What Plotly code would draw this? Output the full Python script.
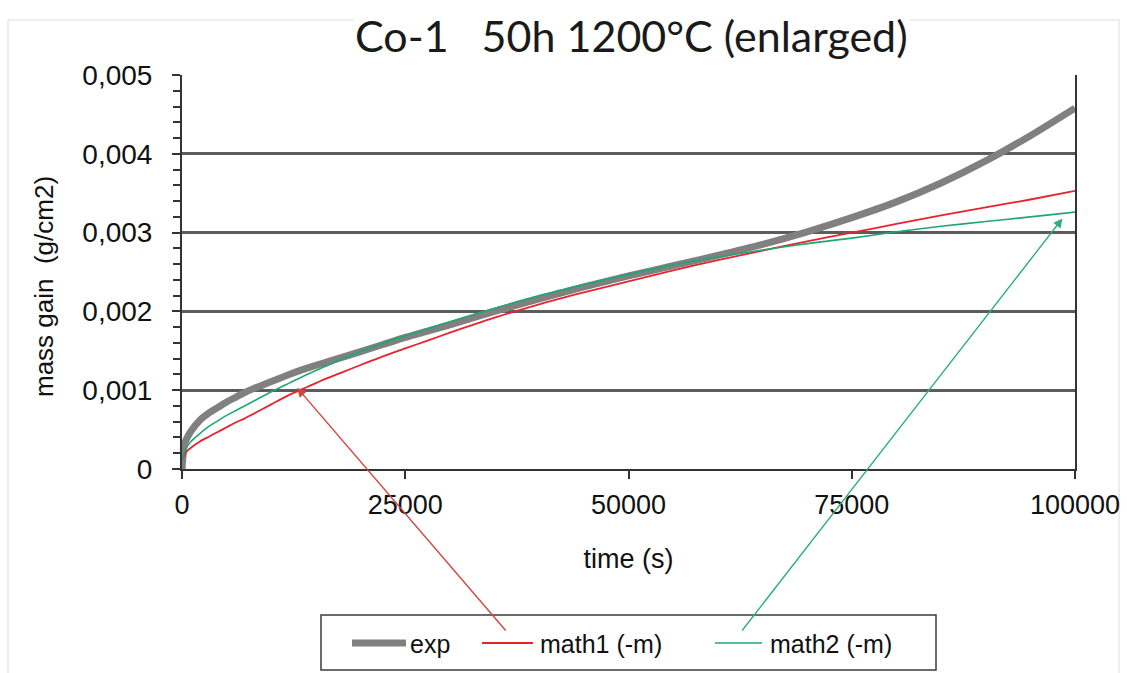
import plotly.graph_objects as go

# ---- data -------------------------------------------------------------
time_s = [0, 250, 500, 1000, 2000, 3000, 4000, 5000, 6000, 7000, 8000,
          10000, 12000, 14000, 16000, 18000, 20000, 22500, 25000, 27500,
          30000, 35000, 40000, 45000, 50000, 55000, 60000, 65000, 70000,
          75000, 80000, 85000, 90000, 95000, 100000]

exp_gain = [0, 0.00030, 0.00038, 0.00048, 0.00062, 0.00071, 0.00078, 0.00085,
            0.00091, 0.00097, 0.00102, 0.00111, 0.00120, 0.00128, 0.00135,
            0.00142, 0.00149, 0.00158, 0.00167, 0.00175, 0.00183, 0.00200,
            0.00216, 0.00231, 0.00245, 0.00258, 0.00271, 0.00285, 0.00301,
            0.00319, 0.00339, 0.00363, 0.00391, 0.00423, 0.00458]

math1_gain = [0.00012, 0.00017, 0.00022, 0.00027, 0.00035, 0.00041, 0.00047,
              0.00053, 0.00059, 0.00064, 0.00070, 0.00082, 0.00094, 0.00104,
              0.00114, 0.00123, 0.00132, 0.00143, 0.00153, 0.00163, 0.00173,
              0.00192, 0.00209, 0.00224, 0.00238, 0.00252, 0.00265, 0.00277,
              0.00289, 0.00300, 0.00311, 0.00322, 0.00332, 0.00342, 0.00353]

math2_gain = [0.00012, 0.00020, 0.00027, 0.00035, 0.00045, 0.00054, 0.00061,
              0.00068, 0.00074, 0.00080, 0.00086, 0.00098, 0.00109, 0.00120,
              0.00130, 0.00140, 0.00149, 0.00160, 0.00169, 0.00178, 0.00187,
              0.00204, 0.00220, 0.00234, 0.00247, 0.00259, 0.00269, 0.00278,
              0.00286, 0.00293, 0.00301, 0.00308, 0.00314, 0.00320, 0.00326]

series_names = ["exp", "math1 (-m)", "math2 (-m)"]
series_colors = ["#808080", "#e8232d", "#20a673"]
series_widths = [7, 1.8, 1.6]

x_tickvals = [0, 25000, 50000, 75000, 100000]
x_ticktext = ["0", "25000", "50000", "75000", "100000"]
y_tickvals = [0, 0.001, 0.002, 0.003, 0.004, 0.005]
y_ticktext = ["0", "0,001", "0,002", "0,003", "0,004", "0,005"]

# points on the model curves that the legend arrows point at
arrow_targets = {"math1 (-m)": (12900, 0.00103), "math2 (-m)": (98600, 0.00318)}

# ---- layout geometry (pixels) -----------------------------------------
W, H = 1127, 673
M_L, M_R, M_T, M_B = 182, 52, 75, 204
PW, PH = W - M_L - M_R, H - M_T - M_B
X_MAX, Y_MAX = 100000, 0.005


def paper_x(px):
    return (px - M_L) / PW


def paper_y(py):
    return (H - M_B - py) / PH


def data_x(px):
    return (px - M_L) / PW * X_MAX


def data_y(py):
    return (H - M_B - py) / PH * Y_MAX


ARIAL = "Liberation Sans, Arial, sans-serif"

fig = go.Figure()
for name, ys, col, w in zip(series_names, [exp_gain, math1_gain, math2_gain],
                            series_colors, series_widths):
    fig.add_trace(go.Scatter(
        x=time_s, y=ys, name=name, mode="lines",
        line=dict(color=col, width=w, shape="spline", smoothing=0.6),
        showlegend=False,
    ))

fig.update_layout(
    width=W, height=H,
    margin=dict(l=M_L, r=M_R, t=M_T, b=M_B, autoexpand=False),
    paper_bgcolor="white", plot_bgcolor="white",
    font=dict(family=ARIAL, color="#111111"),
)

fig.update_xaxes(
    range=[0, X_MAX], tickmode="array", tickvals=x_tickvals, ticktext=x_ticktext,
    ticks="outside", ticklen=8, tickwidth=1.5, tickcolor="#333333",
    showline=True, linecolor="#333333", linewidth=2,
    showgrid=False, zeroline=False, automargin=False,
    tickfont=dict(family=ARIAL, size=27, color="#111111"),
    ticklabelstandoff=3,
    title=dict(text="time (s)", font=dict(family=ARIAL, size=27, color="#111111"),
               standoff=30),
)

fig.update_yaxes(
    range=[0, Y_MAX], tickmode="array", tickvals=y_tickvals, ticktext=y_ticktext,
    ticks="outside", ticklen=8, tickwidth=1.5, tickcolor="#333333",
    minor=dict(tickmode="linear", tick0=0, dtick=0.0002, ticks="outside",
               ticklen=7, tickwidth=1.5, tickcolor="#333333", showgrid=False),
    showline=True, linecolor="#333333", linewidth=2, mirror=True,
    showgrid=True, gridcolor="#5c5c5c", gridwidth=2.5, zeroline=False,
    automargin=False,
    tickfont=dict(family=ARIAL, size=28, color="#111111"),
    ticklabelstandoff=14,
)

shapes = []
annotations = []

# outer chart frame
shapes.append(dict(type="rect", xref="paper", yref="paper",
                   x0=paper_x(8), x1=paper_x(1119), y0=paper_y(700), y1=paper_y(20),
                   line=dict(color="#dcdcdc", width=1), layer="below"))

# title
annotations.append(dict(
    text="Co-1\u00a0\u00a0\u00a050h 1200°C (enlarged)",
    xref="paper", yref="paper", x=paper_x(631), y=paper_y(36),
    xanchor="center", yanchor="middle", showarrow=False, bgcolor="white",
    font=dict(family="Lato, Open Sans, sans-serif", size=43, color="#1a1a1a"),
))

# y-axis title
annotations.append(dict(
    text="mass gain\u00a0\u00a0(g/cm2)", textangle=-90,
    xref="paper", yref="paper", x=paper_x(44), y=paper_y(287),
    xanchor="center", yanchor="middle", showarrow=False,
    font=dict(family=ARIAL, size=26, color="#111111"),
))

# legend box with its entries
shapes.append(dict(type="rect", xref="paper", yref="paper",
                   x0=paper_x(321), x1=paper_x(936), y0=paper_y(670), y1=paper_y(615),
                   line=dict(color="#3c3c3c", width=1.5), fillcolor="white"))
legend_rows = [(352, 406, 408), (482, 533, 538), (715, 762, 768)]
LEG_Y = 643
for name, col, w, (lx0, lx1, tx) in zip(series_names, series_colors, series_widths,
                                        legend_rows):
    shapes.append(dict(type="line", xref="paper", yref="paper",
                       x0=paper_x(lx0), x1=paper_x(lx1), y0=paper_y(LEG_Y), y1=paper_y(LEG_Y),
                       line=dict(color=col, width=w)))
    annotations.append(dict(text=name, xref="paper", yref="paper",
                            x=paper_x(tx), y=paper_y(LEG_Y + 1),
                            xanchor="left", yanchor="middle", showarrow=False,
                            font=dict(family=ARIAL, size=25, color="#111111")))

# arrows from the legend entries to the model curves
arrow_tails = {"math1 (-m)": (507, 632), "math2 (-m)": (741, 632)}
arrow_colors = {"math1 (-m)": "#d0463f", "math2 (-m)": "#2fae82"}
for name, (hx, hy) in arrow_targets.items():
    tx, ty = arrow_tails[name]
    annotations.append(dict(
        x=hx, y=hy, xref="x", yref="y",
        ax=data_x(tx), ay=data_y(ty), axref="x", ayref="y",
        showarrow=True, arrowhead=2, arrowsize=1.3, arrowwidth=1.4,
        arrowcolor=arrow_colors[name], text="",
    ))

fig.update_layout(shapes=shapes, annotations=annotations)

fig.write_html("out.html")
